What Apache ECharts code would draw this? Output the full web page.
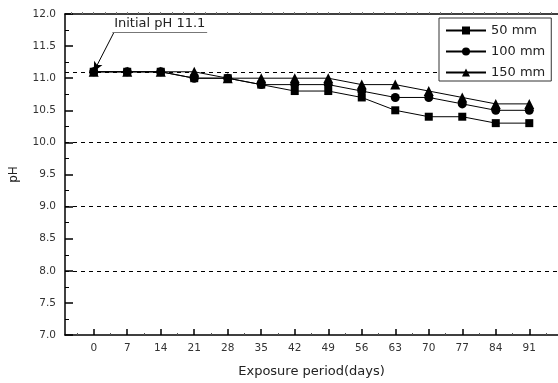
<!DOCTYPE html>
<html>
<head>
<meta charset="utf-8">
<script src="https://cdn.jsdelivr.net/npm/echarts@6/dist/echarts.min.js"></script>
<style>html,body{margin:0;padding:0;background:#fff}#c{width:558px;height:383px}</style>
</head>
<body>
<div id="c"></div>
<script>
var days = [0, 7, 14, 21, 28, 35, 42, 49, 56, 63, 70, 77, 84, 91];
var ph50 = [11.1, 11.1, 11.1, 11.0, 11.0, 10.9, 10.8, 10.8, 10.7, 10.5, 10.4, 10.4, 10.3, 10.3];
var ph100 = [11.1, 11.1, 11.1, 11.0, 11.0, 10.9, 10.9, 10.9, 10.8, 10.7, 10.7, 10.6, 10.5, 10.5];
var ph150 = [11.1, 11.1, 11.1, 11.1, 11.0, 11.0, 11.0, 11.0, 10.9, 10.9, 10.8, 10.7, 10.6, 10.6];
var seriesNames = ['50 mm', '100 mm', '150 mm'];
var refLines = [10.0, 9.0, 8.0];
var initialPH = 11.1;
var annotationText = 'Initial pH 11.1';

var minorX = [];
for (var i = -1; i < days.length; i++) minorX.push((i * 7) + 3.5);
var topTicks = [];
for (var k = -2; k <= 41; k++) topTicks.push(k * 7 / 3);

function pairs(vals) { return days.map(function (d, i) { return [d, vals[i]]; }); }

var font = 'DejaVu Sans';
var chart = echarts.init(document.getElementById('c'), null, {renderer: 'canvas'});
var baseSeries = function (name, vals, symbol, size) {
  return {
    name: name, type: 'line', data: pairs(vals), symbol: symbol, symbolSize: size,
    lineStyle: {color: '#000', width: 1}, itemStyle: {color: '#000'},
    animation: false, z: 2
  };
};
var s1 = baseSeries(seriesNames[0], ph50, 'rect', 8);
var s2 = baseSeries(seriesNames[1], ph100, 'circle', 9);
var s3 = baseSeries(seriesNames[2], ph150, 'triangle', 10);
s1.markLine = {
  silent: true, symbol: ['none', 'none'], animation: false, z: 1,
  lineStyle: {color: '#000', type: [4, 4], width: 1},
  label: {show: false},
  emphasis: {disabled: true},
  data: refLines.map(function (v) { return {yAxis: v}; }).concat([
    [{coord: [-6, initialPH]}, {coord: [72.1, initialPH]}]
  ])
};
s2.markLine = {
  silent: true, animation: false, z: 1,
  symbol: ['none', 'none'],
  emphasis: {disabled: true},
  data: [
    [{coord: [0, initialPH], symbol: 'arrow', symbolSize: [7, 10], lineStyle: {color: '#000', width: 1, type: 'solid'}, label: {show: false}},
     {coord: [4.2, 11.71], symbol: 'none'}],
    [{coord: [3.9, 11.71], symbol: 'none', lineStyle: {color: '#777', width: 1, type: 'solid'},
      label: {show: true, formatter: annotationText, position: 'insideMiddleTop', distance: 2, color: '#222', fontFamily: font, fontSize: 13}},
     {coord: [23.7, 11.71], symbol: 'none'}]
  ]
};

chart.setOption({
  animation: false,
  backgroundColor: '#fff',
  grid: {left: 63, top: 14, width: 496, height: 321, containLabel: false},
  legend: {
    left: 439, top: 18, orient: 'vertical', z: 10,
    padding: [6, 6, 2, 6], itemGap: 8, itemWidth: 40, itemHeight: 10,
    borderColor: '#333', borderWidth: 1, backgroundColor: '#fff',
    textStyle: {fontFamily: font, fontSize: 13, color: '#222', lineHeight: 12},
    data: seriesNames
  },
  xAxis: [
    {
      type: 'value', min: -6, max: 97, position: 'bottom',
      name: 'Exposure period(days)', nameLocation: 'middle', nameGap: 30,
      nameTextStyle: {fontFamily: font, fontSize: 13, color: '#222'},
      axisLine: {onZero: false, lineStyle: {color: '#000', width: 1.5}},
      axisTick: {inside: true, length: 6, customValues: days, lineStyle: {color: '#000', width: 1.5}},
      axisLabel: {customValues: days, fontFamily: font, fontSize: 10.5, color: '#333', margin: 8},
      splitLine: {show: false}
    },
    {
      type: 'value', min: -6, max: 97, position: 'bottom',
      axisLine: {show: false, onZero: false},
      axisTick: {inside: true, length: 2, customValues: minorX, lineStyle: {color: '#555', width: 1}},
      axisLabel: {show: false}, splitLine: {show: false}
    },
    {
      type: 'value', min: -6, max: 97, position: 'top',
      axisLine: {show: true, onZero: false, lineStyle: {color: '#000', width: 1.5}},
      axisTick: {inside: false, length: 2, customValues: topTicks, lineStyle: {color: '#777', width: 1}},
      axisLabel: {show: false}, splitLine: {show: false}
    }
  ],
  yAxis: {
    type: 'value', min: 7, max: 12, interval: 0.5, position: 'left',
    name: 'pH', nameLocation: 'middle', nameGap: 45,
    nameTextStyle: {fontFamily: font, fontSize: 12, color: '#222'},
    axisLine: {show: true, onZero: false, lineStyle: {color: '#000', width: 1.5}},
    axisTick: {inside: true, length: 8, lineStyle: {color: '#000', width: 1.5}},
    minorTick: {show: true, splitNumber: 2, length: 4, lineStyle: {color: '#000', width: 1}},
    axisLabel: {fontFamily: font, fontSize: 10.5, color: '#333', margin: 9,
      formatter: function (v) { return v.toFixed(1); }},
    splitLine: {show: false}
  },
  series: [s1, s2, s3]
});
</script>
</body>
</html>
